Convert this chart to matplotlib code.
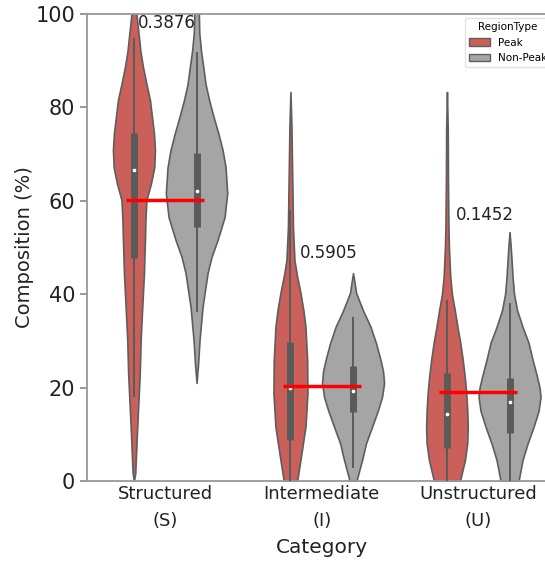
import numpy as np
import matplotlib
matplotlib.use("Agg")
import matplotlib.pyplot as plt
from matplotlib.patches import Patch

# ---------------- data ----------------
categories = ["Structured\n(S)", "Intermediate\n(I)", "Unstructured\n(U)"]
region_types = ["Peak", "Non-Peak"]

# density profiles: (value, relative half-width)
prof_S_peak = [(0, 0), (1.7, 1.3), (8.8, 2.7), (15.8, 4.2), (23.1, 5.8), (30.2, 6.7), (37.3, 8.3),
               (44.5, 10), (51.6, 11), (56, 11.5), (60.2, 12.5), (63.7, 17), (67.2, 20.3), (70.9, 21),
               (74.5, 20), (78, 18), (81.6, 16), (85, 12.5), (88.7, 9), (92, 6.5), (96, 4.5), (100, 2.5), (103, 1.5)]
prof_S_nonpeak = [(21, 0), (25, 1.5), (30.2, 3), (37.3, 6), (44.5, 11), (48, 15), (51.6, 21), (56.5, 28),
                  (61.6, 30.7), (67.2, 29), (70.9, 26), (74.5, 21.7), (78, 17), (81.6, 12.5), (85, 9),
                  (88.7, 6.7), (92, 4.5), (96, 2.7), (103, 2)]
prof_I_peak = [(0, 6.7), (4.5, 10), (11.6, 15), (18.8, 17), (25.9, 16.7), (33, 15), (36.5, 13), (40.3, 10),
               (44, 6.5), (47.3, 4), (54.4, 2.5), (62, 2), (68.7, 1.5), (76, 1), (83.3, 0)]
prof_I_nonpeak = [(0, 3.5), (0.9, 4.5), (4.5, 9), (8.1, 13), (11.6, 19), (15.2, 25), (18, 29), (21, 31),
                  (23.5, 30), (25.9, 27.5), (29.5, 23), (33, 17.5), (36.5, 10), (40.3, 3), (42.5, 1.5), (44.5, 0)]
prof_U_peak = [(0, 13), (0.9, 14), (4.5, 18), (8.1, 20.3), (11.6, 20.8), (15.2, 20.3), (18.8, 19.3),
               (22.3, 17.8), (25.9, 15.8), (29.6, 13.3), (33, 10.5), (36.6, 7.8), (40, 5), (43.7, 3.3),
               (50, 2), (54.4, 1.5), (65, 1), (75, 0.8), (83.3, 0)]
prof_U_nonpeak = [(0, 9), (4.5, 13), (8, 18), (11.6, 24), (15, 29), (18, 31), (20, 30), (22.3, 27.5),
                  (26, 23), (29.6, 19), (33, 13), (36.6, 7.5), (40, 4.5), (43.7, 3), (47.3, 2), (50, 1.2), (53.3, 0)]

profiles = [[prof_S_peak, prof_S_nonpeak], [prof_I_peak, prof_I_nonpeak], [prof_U_peak, prof_U_nonpeak]]

# box statistics: (whisker low, Q1, median, Q3, whisker high)
box_S_peak = (18, 47.8, 66.6, 74.5, 94.9)
box_S_nonpeak = (36.2, 54.4, 62.1, 70.2, 91.9)
box_I_peak = (0, 8.8, 19.9, 29.8, 58)
box_I_nonpeak = (2.8, 14.8, 19.3, 24.6, 35.1)
box_U_peak = (0, 7.1, 14.3, 23.1, 38.8)
box_U_nonpeak = (0, 10.3, 16.9, 22.1, 38.1)
boxes = [[box_S_peak, box_S_nonpeak], [box_I_peak, box_I_nonpeak], [box_U_peak, box_U_nonpeak]]

category_means = [60.2, 20.3, 19.1]
p_values = ["0.3876", "0.5905", "0.1452"]
p_text_x = [0.01, 1.045, 2.043]
p_text_y = [98.0, 48.8, 56.9]

# ---------------- style ----------------
colors = {"Peak": "#cb5f5a", "Non-Peak": "#a5a5a5"}
edge = "#5e5e5e"
px_per_unit = 156.5  # horizontal pixels per category unit

fig = plt.figure(figsize=(5.45, 5.65), dpi=100)
ax = fig.add_axes([87 / 545, 84 / 565, 469.5 / 545, 467 / 565])

offsets = [-0.2, 0.2]
for ci in range(len(categories)):
    for ri, rt in enumerate(region_types):
        prof = np.array(profiles[ci][ri], dtype=float)
        coords, vals = prof[:, 0], prof[:, 1]
        pos = ci + offsets[ri]
        b = boxes[ci][ri]
        stats = [dict(coords=coords, vals=vals, mean=b[2], median=b[2], min=coords.min(), max=coords.max())]
        width = 2 * vals.max() / px_per_unit
        parts = ax.violin(stats, positions=[pos], widths=[width], showmeans=False,
                          showextrema=False, showmedians=False)
        for body in parts["bodies"]:
            body.set_facecolor(colors[rt])
            body.set_edgecolor(edge)
            body.set_linewidth(1.2)
            body.set_alpha(1)
        ax.vlines(pos, b[0], b[4], color="#5a5a5a", lw=1.4, zorder=3)
        ax.vlines(pos, b[1], b[3], color="#5a5a5a", lw=5, zorder=3)
        ax.scatter([pos], [b[2]], s=7, color="white", zorder=4, linewidths=0)

for ci in range(len(categories)):
    ax.hlines(category_means[ci], ci - 0.25, ci + 0.25, color="red", lw=2.5, zorder=5)
    ax.text(p_text_x[ci], p_text_y[ci], p_values[ci], ha="center", va="center", fontsize=12, color="#222222")

ax.set_xlim(-0.5, 2.5)
ax.set_ylim(0, 100)
ax.set_xticks(range(len(categories)))
ax.set_xticklabels(categories, fontsize=13, linespacing=1.6)
ax.set_yticks([0, 20, 40, 60, 80, 100])
ax.tick_params(axis="y", labelsize=15, color="#888888", length=5, width=1.2, labelcolor="#222222")
ax.tick_params(axis="x", length=0, pad=3, labelcolor="#222222")
ax.set_ylabel("Composition (%)", fontsize=14, labelpad=1, color="#222222")
ax.set_xlabel("Category", fontsize=14.5, labelpad=6, color="#222222")
for s in ax.spines.values():
    s.set_color("#999999")
    s.set_linewidth(1.3)

handles = [Patch(facecolor=colors[r], edgecolor=edge, label=r) for r in region_types]
leg = ax.legend(handles=handles, title="RegionType", loc="upper right", fontsize=7.5,
                title_fontsize=7.5, bbox_to_anchor=(1.0, 1.002), frameon=True)
leg.get_frame().set_edgecolor("#dddddd")

fig.savefig("out.png", dpi=100)
